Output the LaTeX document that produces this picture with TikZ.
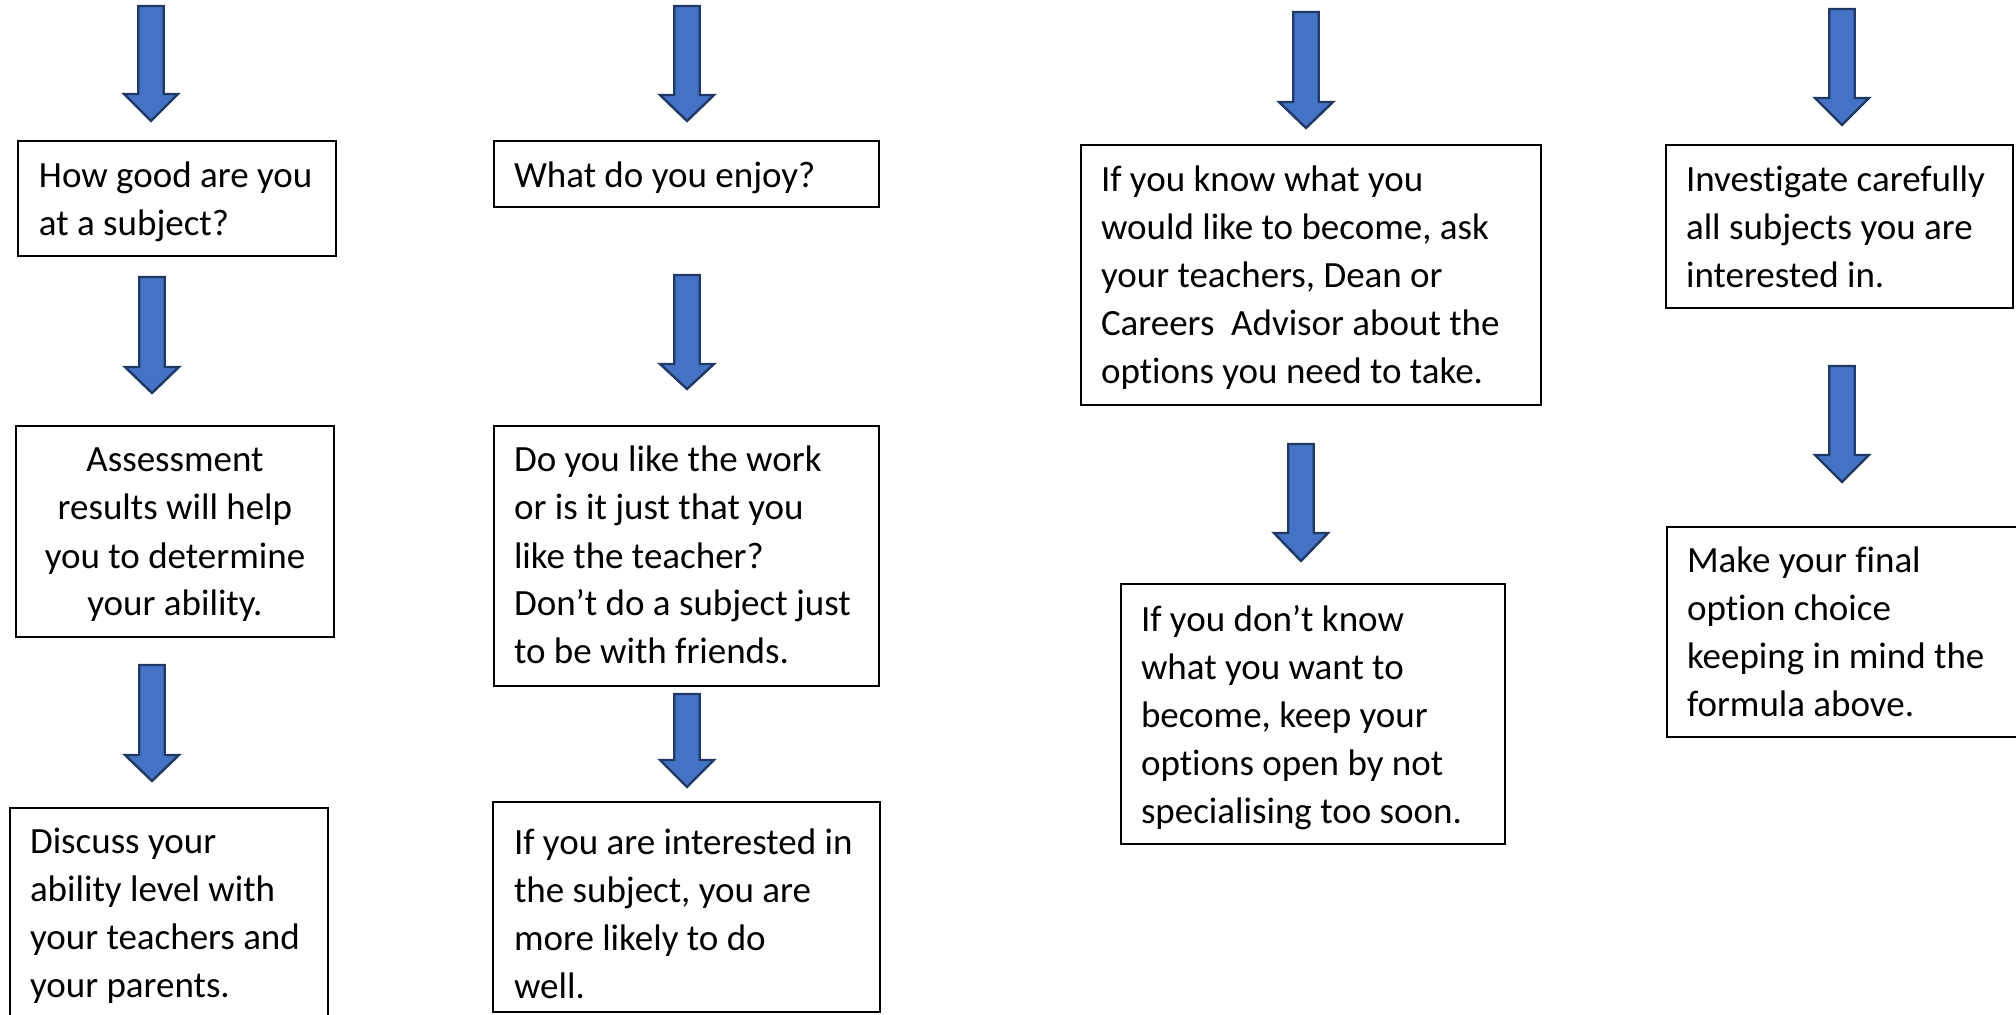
\documentclass[tikz,border=0pt]{standalone}
\usepackage{fontspec}
\setmainfont{Carlito}[Ligatures={NoCommon}]
\definecolor{arrowfill}{HTML}{4472C4}
\definecolor{arrowline}{HTML}{203864}
\newcommand{\blockarrow}[4]{%
  \draw[blockarr] ({#1-12.75},#2) -- ({#1+12.75},#2) -- ({#1+12.75},#3) -- ({#1+27},#3)
    -- (#1,#4) -- ({#1-27},#3) -- ({#1-12.75},#3) -- cycle;}
\newcommand{\boxlines}[2]{\parbox[t]{#1}{\raggedright #2}}
\newcommand{\boxlinesc}[2]{\parbox[t]{#1}{\centering #2}}
\begin{document}
\begin{tikzpicture}[x=0.5pt,y=-0.5pt,
  blockarr/.style={fill=arrowfill, draw=arrowline, line width=1.2pt, line join=miter},
  textbox/.style={draw=black, line width=1.2pt, fill=white, anchor=north west, inner sep=0pt, outer sep=0pt},
  txt/.style={anchor=base west, inner sep=0pt, outer sep=0pt, font=\fontsize{18.5pt}{24pt}\selectfont},
  txtc/.style={anchor=base, inner sep=0pt, outer sep=0pt, font=\fontsize{18.5pt}{24pt}\selectfont}]
\useasboundingbox (0,0) rectangle (2016,1015);
\clip (0,0) rectangle (2016,1015);
\fill[white] (0,0) rectangle (2016,1015);

% column 1
\blockarrow{151}{6}{94}{121}
\node[textbox, minimum width=159pt, minimum height=57.5pt] (b1) at (18,141) {};
\node[txt] (tb1) at (39,188) {\boxlines{150pt}{How good are you\\at a subject?}};
\blockarrow{152}{277}{367}{393}
\node[textbox, minimum width=159pt, minimum height=105.5pt] (b2) at (16,426) {};
\node[txtc] (tb2) at (175,472) {\boxlinesc{150pt}{Assessment\\results will help\\you to determine\\your ability.}};
\blockarrow{152}{665}{755}{781}
\node[textbox, minimum width=159pt, minimum height=130pt] (b3) at (10,808) {};
\node[txt] (tb3) at (30,853) {\boxlines{150pt}{Discuss your\\ability level with\\your teachers and\\your parents.}};

% column 2
\blockarrow{687}{6}{95}{121}
\node[textbox, minimum width=192.5pt, minimum height=33pt] (c1) at (494,141) {};
\node[txt] (tc1) at (514,188) {\boxlines{180pt}{What do you enjoy?}};
\blockarrow{687}{275}{364}{389}
\node[textbox, minimum width=192.5pt, minimum height=130pt] (c2) at (494,426) {};
\node[txt] (tc2) at (514,472) {\boxlines{180pt}{Do you like the work\\or is it just that you\\like the teacher?\\Don’t do a subject just\\to be with friends.}};
\blockarrow{687}{694}{760}{787}
\node[textbox, minimum width=193.5pt, minimum height=105pt] (c3) at (493,802) {};
\node[txt] (tc3) at (514,854) {\boxlines{180pt}{If you are interested in\\the subject, you are\\more likely to do\\well.}};

% column 3
\blockarrow{1306}{12}{102}{128}
\node[textbox, minimum width=230pt, minimum height=130pt] (d1) at (1081,145) {};
\node[txt] (td1) at (1101,192) {\boxlines{220pt}{If you know what you\\would like to become, ask\\your teachers, Dean or\\Careers\ \ Advisor about the\\options you need to take.}};
\blockarrow{1301}{444}{533}{561}
\node[textbox, minimum width=192pt, minimum height=130pt] (d2) at (1121,584) {};
\node[txt] (td2) at (1141,631) {\boxlines{180pt}{If you don’t know\\what you want to\\become, keep your\\options open by not\\specialising too soon.}};

% column 4
\blockarrow{1842}{9}{98}{125}
\node[textbox, minimum width=173.5pt, minimum height=81.5pt] (e1) at (1666,145) {};
\node[txt] (te1) at (1686,192) {\boxlines{165pt}{Investigate carefully\\all subjects you are\\interested in.}};
\blockarrow{1842}{366}{455}{482}
\node[textbox, minimum width=190pt, minimum height=105pt] (e2) at (1667,527) {};
\node[txt] (te2) at (1687,572) {\boxlines{165pt}{Make your final\\option choice\\keeping in mind the\\formula above.}};
\end{tikzpicture}
\end{document}
